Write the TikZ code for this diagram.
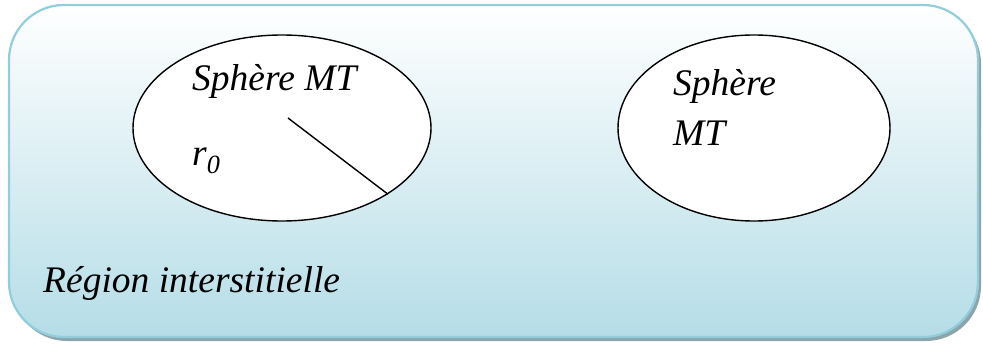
\documentclass[tikz,border=0pt]{standalone}
\usepackage{fontspec}
\setmainfont{Liberation Serif}
\usetikzlibrary{shapes.geometric}
\definecolor{boxtop}{RGB}{255,255,255}
\definecolor{boxbot}{RGB}{181,221,231}
\definecolor{boxline}{RGB}{146,205,220}
\definecolor{shadowc}{RGB}{140,165,172}
\tikzset{
  sphere/.style={draw=black, line width=1.4pt, fill=white, ellipse, inner sep=0pt},
  lbl/.style={inner sep=0pt, font=\fontsize{37.5}{50}\selectfont\itshape, anchor=base west},
}
\begin{document}
\begin{tikzpicture}[x=1pt,y=-1pt]
\useasboundingbox (0,0) rectangle (983,345);
% shadow
\fill[shadowc, rounded corners=55pt] (12,9) rectangle (981,341);
% box
\shade[top color=boxtop, bottom color=boxbot, rounded corners=55pt] (9,5) rectangle (978,337);
\draw[boxline, line width=2.2pt, rounded corners=55pt] (9,5) rectangle (978,337);
% spheres
\node[sphere, minimum width=298pt, minimum height=186pt] (s1) at (282,128) {};
\node[sphere, minimum width=272pt, minimum height=186pt] (s2) at (754,128) {};
% radius
\coordinate (c1) at (288,118);
\draw[line width=1.4pt] (c1) -- (s1.-32.4);
% labels
\node[lbl] (t1) at (192,90) {Sphère MT};
\node[lbl] (r0) at (192,165) {r\textsubscript{0}};
\node[lbl, align=left] (t2) at (673,145) {Sphère\\MT};
\node[lbl] (reg) at (43,292) {Région interstitielle};
\end{tikzpicture}
\end{document}
